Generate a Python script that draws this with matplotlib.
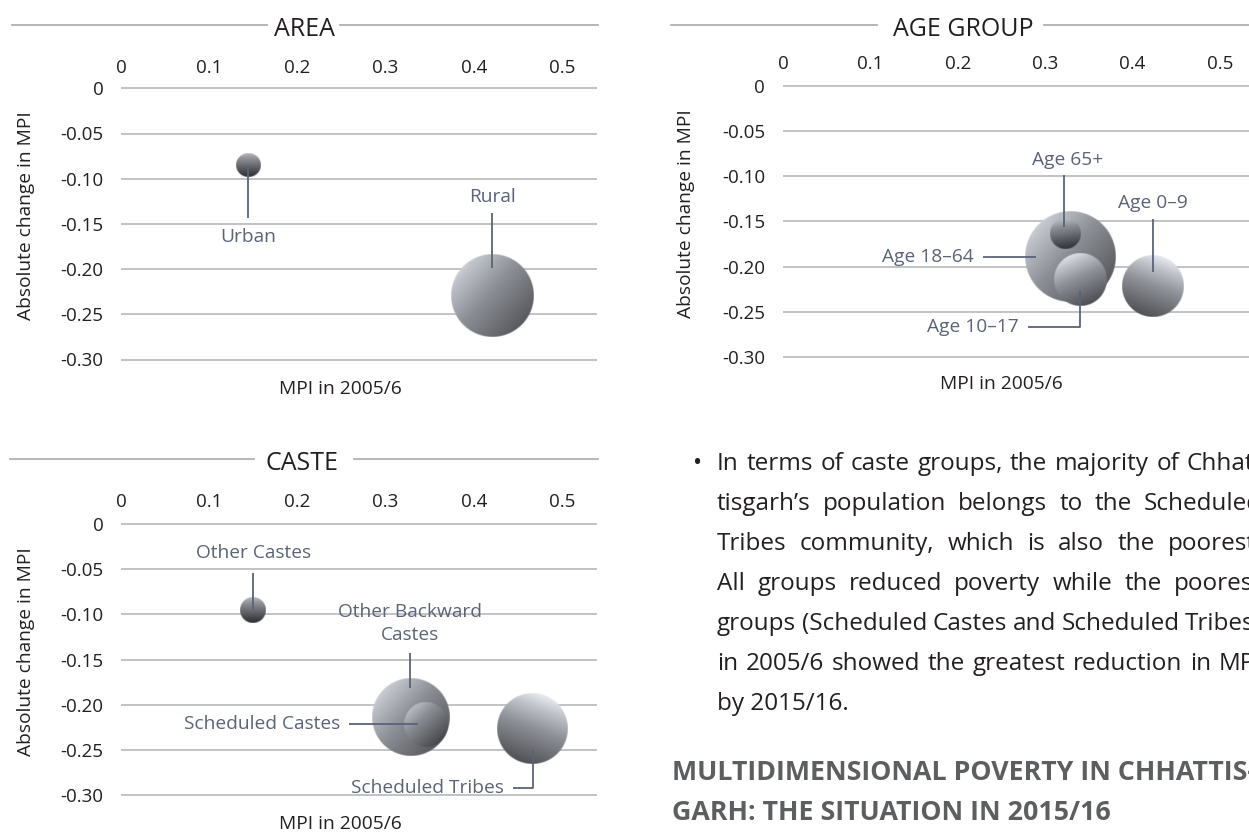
import numpy as np
import matplotlib
matplotlib.use("Agg")
import matplotlib.pyplot as plt
from matplotlib.colors import LinearSegmentedColormap
from matplotlib.lines import Line2D

# ---------------------------------------------------------------- data
x_ticks = [0, 0.1, 0.2, 0.3, 0.4, 0.5]
x_tick_labels = ["0", "0.1", "0.2", "0.3", "0.4", "0.5"]
y_ticks = [0, -0.05, -0.10, -0.15, -0.20, -0.25, -0.30]
y_tick_labels = ["0", "-0.05", "-0.10", "-0.15", "-0.20", "-0.25", "-0.30"]

area_groups = ["Urban", "Rural"]
area_mpi_2005 = [0.144, 0.421]
area_change = [-0.085, -0.229]
area_size = [1.44, 17.2]

age_groups = ["Age 0–9", "Age 10–17", "Age 18–64", "Age 65+"]
age_mpi_2005 = [0.423, 0.340, 0.329, 0.323]
age_change = [-0.221, -0.214, -0.189, -0.164]
age_size = [9.6, 7.0, 20.7, 2.3]

caste_groups = ["Other Castes", "Other Backward\nCastes", "Scheduled Castes", "Scheduled Tribes"]
caste_mpi_2005 = [0.150, 0.329, 0.346, 0.467]
caste_change = [-0.095, -0.213, -0.222, -0.226]
caste_size = [1.69, 15.2, 4.84, 12.6]

body_lines = [
    "In terms of caste groups, the majority of Chhat-",
    "tisgarh’s population belongs to the Scheduled",
    "Tribes community, which is also the poorest.",
    "All groups reduced poverty while the poorest",
    "groups (Scheduled Castes and Scheduled Tribes)",
    "in 2005/6 showed the greatest reduction in MPI",
    "by 2015/16.",
]
heading_lines = [
    "MULTIDIMENSIONAL POVERTY IN CHHATTIS-",
    "GARH: THE SITUATION IN 2015/16",
]

# ---------------------------------------------------------------- style
W, H = 1249, 833
plt.rcParams["font.family"] = ["Open Sans", "DejaVu Sans"]
plt.rcParams["axes.unicode_minus"] = False

INK = "#231f20"
NOTE = "#5a6377"
GRID = "#bcbec0"
RULE = "#a7a9ac"

shade_cmap = LinearSegmentedColormap.from_list(
    "sphere",
    [(0.0, "#38393d"), (0.35, "#6a6c72"), (0.6, "#8e9097"),
     (0.85, "#c0c2ca"), (1.0, "#e4e6ee")],
)

fig = plt.figure(figsize=(W / 100, H / 100), dpi=100)


def fx(px):
    return px / W


def fy(py):
    return 1 - py / H


def section_title(text, cx, cy, left_rule, right_rule):
    fig.text(fx(cx), fy(cy + 1), text, ha="center", va="center_baseline",
             fontsize=18, color=INK)
    for a, b in (left_rule, right_rule):
        fig.add_artist(Line2D([fx(a), fx(b)], [fy(cy), fy(cy)],
                              transform=fig.transFigure, color=RULE, lw=1.2))


def make_panel(left, top, ppu_x, ppu_y, ylab_xy, xlab_xy, ytick_pad, xtick_pad):
    xmax, ymin, ymax = 0.54, -0.3015, 0.0015
    w = xmax * ppu_x
    h = (ymax - ymin) * ppu_y
    top_px = top - ymax * ppu_y
    ax = fig.add_axes([left / W, 1 - (top_px + h) / H, w / W, h / H])
    ax.set_xlim(0, xmax)
    ax.set_ylim(ymin, ymax)
    for s in ax.spines.values():
        s.set_visible(False)
    ax.set_xticks(x_ticks, labels=x_tick_labels)
    ax.set_yticks(y_ticks, labels=y_tick_labels)
    ax.xaxis.tick_top()
    ax.tick_params(axis="x", length=0, pad=xtick_pad, labelsize=13.5, labelcolor=INK)
    ax.tick_params(axis="y", length=0, pad=ytick_pad, labelsize=13.5, labelcolor=INK)
    ax.grid(axis="y", color=GRID, lw=1.3)
    ax.grid(axis="x", visible=False)
    ax.set_axisbelow(True)
    ax.set_ylabel("Absolute change in MPI", fontsize=13.8, color=INK)
    ax.yaxis.set_label_coords(*ylab_xy)
    ax.set_xlabel("MPI in 2005/6", fontsize=13.8, color=INK)
    ax.xaxis.set_label_position("bottom")
    ax.xaxis.set_label_coords(*xlab_xy)
    ax.patch.set_alpha(0)
    ax.ppu = (ppu_x, ppu_y)
    return ax


def bubble(ax, x, y, size, light=(-1.0, 0.1), bright=0.0, z=2):
    ppx, ppy = ax.ppu
    r = 10 * np.sqrt(size)
    n = 240
    u = np.linspace(-1, 1, n)
    uu, vv = np.meshgrid(u, u)
    rr = np.hypot(uu, vv)
    lx, ly = light
    norm = np.hypot(lx, ly)
    dot = (uu * lx + vv * ly) / norm
    s = 0.56 + 0.25 * dot + 0.2 * vv + bright
    rgba = shade_cmap(np.clip(s, 0, 1))
    rgba[..., 3] = np.clip((1 - rr) * r + 0.5, 0, 1)
    ax.imshow(rgba, extent=[x - r / ppx, x + r / ppx, y - r / ppy, y + r / ppy],
              origin="lower", interpolation="bilinear", aspect="auto",
              zorder=z, clip_on=False)


def note(ax, x, y, label, path, text_at, ha="center"):
    ppx, ppy = ax.ppu
    xs = [x + dx / ppx for dx, dy in path]
    ys = [y - dy / ppy for dx, dy in path]
    ax.plot(xs, ys, color=NOTE, lw=1.3, zorder=10, clip_on=False,
            solid_capstyle="butt")
    tx, ty = text_at
    ax.text(x + tx / ppx, y - ty / ppy, label, ha=ha, va="center",
            fontsize=13.8, color=NOTE, zorder=11, linespacing=1.4)


def finish(ax):
    ax.set_xlim(0, 0.54)
    ax.set_ylim(-0.3015, 0.0015)


# ---------------------------------------------------------------- AREA
section_title("AREA", 304, 25, (12, 267), (340, 598))
ax_area = make_panel(121, 88.3, 882, 904, (-0.18, 0.53), (0.46, -0.07), 12.5, 7.5)
area_style = {
    "Urban": dict(light=(0, 1), bright=-0.2),
    "Rural": dict(light=(-1, 0.1), bright=0.0),
}
area_notes = {
    "Urban": dict(path=[(0, 0), (0, 53)], text_at=(0, 72)),
    "Rural": dict(path=[(0, -27), (0, -82)], text_at=(0, -98)),
}
order = list(np.argsort(area_size)[::-1])
for rank, i in enumerate(order):
    g = area_groups[i]
    bubble(ax_area, area_mpi_2005[i], area_change[i], area_size[i], z=2 + rank, **area_style[g])
for i, g in enumerate(area_groups):
    note(ax_area, area_mpi_2005[i], area_change[i], g, **area_notes[g])
finish(ax_area)

# ---------------------------------------------------------------- AGE GROUP
section_title("AGE GROUP", 963, 25, (671, 877), (1044, 1249))
ax_age = make_panel(783, 86, 874, 903, (-0.1875, 0.53), (0.463, -0.063), 13, 8.5)
age_style = {
    "Age 0–9": dict(light=(0.6, 0.8), bright=0.03),
    "Age 10–17": dict(light=(-0.7, 0.7), bright=0.0),
    "Age 18–64": dict(light=(-1, 0.1), bright=0.0),
    "Age 65+": dict(light=(-0.3, 1), bright=-0.17),
}
age_notes = {
    "Age 0–9": dict(path=[(0, -14), (0, -67)], text_at=(0, -83)),
    "Age 10–17": dict(path=[(0, 12), (0, 47.5), (-52, 47.5)], text_at=(-61, 47.5), ha="right"),
    "Age 18–64": dict(path=[(-34.5, 0), (-87.5, 0)], text_at=(-96.5, 0), ha="right"),
    "Age 65+": dict(path=[(-1, -7), (-1, -59)], text_at=(2, -74)),
}
order = list(np.argsort(age_size)[::-1])
for rank, i in enumerate(order):
    g = age_groups[i]
    bubble(ax_age, age_mpi_2005[i], age_change[i], age_size[i], z=2 + rank, **age_style[g])
for i, g in enumerate(age_groups):
    note(ax_age, age_mpi_2005[i], age_change[i], g, **age_notes[g])
finish(ax_age)

# ---------------------------------------------------------------- CASTE
section_title("CASTE", 302, 459, (10, 254), (354, 598))
ax_caste = make_panel(121, 524, 882, 904, (-0.18, 0.53), (0.46, -0.066), 12.5, 8.5)
caste_style = {
    "Other Castes": dict(light=(0, 1), bright=-0.2),
    "Other Backward\nCastes": dict(light=(-1, 0.1), bright=0.0),
    "Scheduled Castes": dict(light=(-1, 0.3), bright=-0.1),
    "Scheduled Tribes": dict(light=(0.6, 0.8), bright=0.03),
}
caste_notes = {
    "Other Castes": dict(path=[(0, 0), (0, -37)], text_at=(0, -57)),
    "Other Backward\nCastes": dict(path=[(-1, -29), (-1, -64)], text_at=(-1, -93)),
    "Scheduled Castes": dict(path=[(-8, -1), (-77, -1)], text_at=(-86, -1), ha="right"),
    "Scheduled Tribes": dict(path=[(0, 22), (0, 60), (-20, 60)], text_at=(-29, 60), ha="right"),
}
order = list(np.argsort(caste_size)[::-1])
for rank, i in enumerate(order):
    g = caste_groups[i]
    bubble(ax_caste, caste_mpi_2005[i], caste_change[i], caste_size[i], z=2 + rank, **caste_style[g])
for i, g in enumerate(caste_groups):
    note(ax_caste, caste_mpi_2005[i], caste_change[i], g, **caste_notes[g])
finish(ax_caste)

# ---------------------------------------------------------------- text column
renderer = fig.canvas.get_renderer()
body_kw = dict(fontsize=17.5, color=INK, va="center_baseline")


def width_px(s, **kw):
    t = fig.text(0, 0, s, **kw)
    w = t.get_window_extent(renderer).width
    t.remove()
    return w


XL, XR = 717, 1262
fig.text(fx(698), fy(461), "•", ha="center", **body_kw)
for k, line in enumerate(body_lines):
    yb = 461 + 40 * k
    if k == len(body_lines) - 1:
        fig.text(fx(XL), fy(yb), line, ha="left", **body_kw)
        continue
    words = line.split(" ")
    ws = [width_px(w, **body_kw) for w in words]
    gap = (XR - XL - sum(ws)) / (len(words) - 1)
    x = XL
    for w, wpx in zip(words, ws):
        fig.text(fx(x), fy(yb), w, ha="left", **body_kw)
        x += wpx + gap

for k, line in enumerate(heading_lines):
    fig.text(fx(672), fy(770 + 40 * k), line, ha="left", va="center_baseline",
             fontsize=19.3, fontweight="bold", color="#5d5e60")

fig.savefig("out.png", dpi=100)
